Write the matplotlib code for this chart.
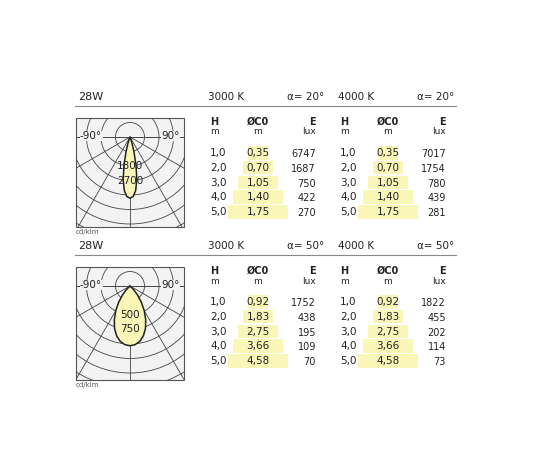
import numpy as np
import matplotlib.pyplot as plt
from matplotlib.patches import Rectangle, Circle, Polygon

# data
heights = ['1,0', '2,0', '3,0', '4,0', '5,0']
blocks = [
    {'power': '28W', 'alpha': '20°',
     'd3000': ['0,35', '0,70', '1,05', '1,40', '1,75'], 'e3000': ['6747', '1687', '750', '422', '270'],
     'd4000': ['0,35', '0,70', '1,05', '1,40', '1,75'], 'e4000': ['7017', '1754', '780', '439', '281'],
     'rings': ['1800', '2700'], 'ring_step': 900},
    {'power': '28W', 'alpha': '50°',
     'd3000': ['0,92', '1,83', '2,75', '3,66', '4,58'], 'e3000': ['1752', '438', '195', '109', '70'],
     'd4000': ['0,92', '1,83', '2,75', '3,66', '4,58'], 'e4000': ['1822', '455', '202', '114', '73'],
     'rings': ['500', '750'], 'ring_step': 250},
]
lobe_angles = [[0, 3, 6, 9, 12, 15, 18, 22, 30],
               [0, 5, 10, 15, 20, 25, 30, 35, 40, 45, 55]]
lobe_cd = [[3800, 3700, 3350, 2700, 1800, 950, 400, 100, 0],
           [1030, 1015, 970, 890, 780, 640, 490, 340, 200, 90, 0]]

fig = plt.figure(figsize=(5.5, 4.5), dpi=100)
ax = fig.add_axes([0, 0, 1, 1])
ax.set_xlim(0, 550)
ax.set_ylim(450, 0)
ax.axis('off')

fs = 7.5
txt = '#222222'
yel = '#f9f6b8'
for b, blk in enumerate(blocks):
    y0 = 97 + b * 149
    ax.text(78, y0, blk['power'], fontsize=8, color=txt, va='center')
    for xo, k in [(0, '3000 K'), (130, '4000 K')]:
        ax.text(208 + xo, y0, k, fontsize=7.5, color=txt, va='center')
        ax.text(324 + xo, y0, 'α= ' + blk['alpha'], fontsize=7.5, color=txt, va='center', ha='right')
    ax.plot([75, 456], [y0 + 9, y0 + 9], color='#888888', lw=0.8)

    # table
    hy = y0 + 30
    rows = [y0 + 56 + i * 14.8 for i in range(5)]
    for xo, d, e in [(0, blk['d3000'], blk['e3000']), (130, blk['d4000'], blk['e4000'])]:
        for i, ry in enumerate(rows):
            half = 10 + i * 5
            ax.add_patch(Rectangle((258 + xo - half, ry - 7), 2 * half, 13.5, color=yel, lw=0))
        ax.text(210 + xo, hy - 5, 'H', fontsize=7, color=txt, va='center', weight='bold')
        ax.text(210 + xo, hy + 5, 'm', fontsize=6.5, color=txt, va='center')
        ax.text(258 + xo, hy - 5, 'ØC0', fontsize=7, color=txt, va='center', ha='center', weight='bold')
        ax.text(258 + xo, hy + 5, 'm', fontsize=6.5, color=txt, va='center', ha='center')
        ax.text(316 + xo, hy - 5, 'E', fontsize=7, color=txt, va='center', ha='right', weight='bold')
        ax.text(316 + xo, hy + 5, 'lux', fontsize=6.5, color=txt, va='center', ha='right')
        for i, ry in enumerate(rows):
            ax.text(210 + xo, ry, heights[i], fontsize=fs, color=txt, va='center')
            ax.text(258 + xo, ry, d[i], fontsize=fs, color=txt, va='center', ha='center')
            ax.text(316 + xo, ry + 1, e[i], fontsize=fs - 0.5, color=txt, va='center', ha='right')

    # polar diagram
    bx, by, bw, bh = 76, y0 + 21, 108, 109 if b == 0 else 113
    box = Rectangle((bx, by), bw, bh, fc='#f3f3f3', ec='#555555', lw=0.8, zorder=1)
    ax.add_patch(box)
    cx, cy = 130, y0 + 40
    step = 14.5
    for k in range(1, 10):
        c = Circle((cx, cy), step * k, fill=False, ec='#444444', lw=0.6, zorder=2)
        ax.add_patch(c)
        c.set_clip_path(box)
    for a in range(-90, 91, 30):
        t = np.radians(a)
        ln, = ax.plot([cx, cx + 200 * np.sin(t)], [cy, cy + 200 * np.cos(t)], color='#444444', lw=0.6, zorder=2)
        ln.set_clip_path(box)
    ax.plot([bx, bx + bw], [cy, cy], color='#444444', lw=0.6, zorder=2)
    ang = np.radians(np.array(lobe_angles[b]))
    r = np.array(lobe_cd[b]) / blk['ring_step'] * step
    xs = np.concatenate([cx + r * np.sin(ang), (cx - r * np.sin(ang))[::-1]])
    ys = np.concatenate([cy + r * np.cos(ang), (cy + r * np.cos(ang))[::-1]])
    ax.add_patch(Polygon(np.column_stack([xs, ys]), closed=True, fc=yel, ec='#222222', lw=1.1, zorder=3))
    for k, lab in enumerate(blk['rings']):
        ax.text(cx, cy + step * (2 + k), lab, fontsize=7.5, color=txt, ha='center', va='center', zorder=4)
    ax.text(80, cy - 1, '-90°', fontsize=7.5, color=txt, va='center', zorder=4,
            bbox=dict(fc='#f3f3f3', ec='none', pad=0.3))
    ax.text(180, cy - 1, '90°', fontsize=7.5, color=txt, va='center', ha='right', zorder=4,
            bbox=dict(fc='#f3f3f3', ec='none', pad=0.3))
    ax.text(76, by + bh + 5, 'cd/klm', fontsize=5, color='#555555', va='center')

fig.savefig('out.png', dpi=100)
